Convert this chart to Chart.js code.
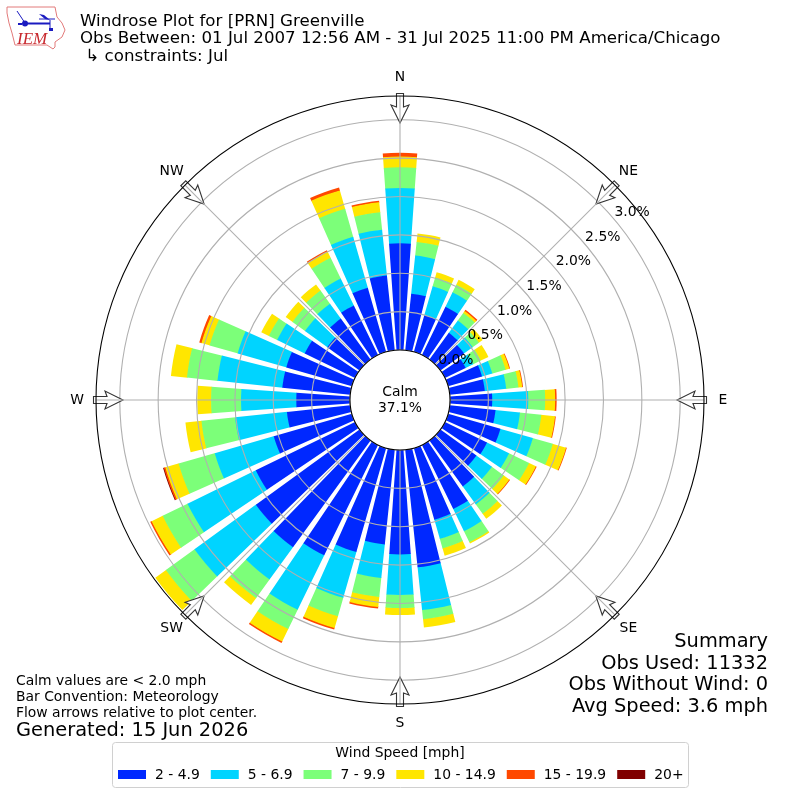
<!DOCTYPE html>
<html>
<head>
<meta charset="utf-8">
<title>Windrose</title>
<script src="https://cdn.jsdelivr.net/npm/chart.js@4"></script>
<style>
body{margin:0;background:#fff}
canvas{display:block}
</style>
</head>
<body>
<canvas id="rose" width="800" height="800"></canvas>
<script>
// directions, every 10 degrees starting from north
const directions = [0,10,20,30,40,50,60,70,80,90,100,110,120,130,140,150,160,170,180,190,200,210,220,230,240,250,260,270,280,290,300,310,320,330,340,350];
const speedBins = ['2 - 4.9','5 - 6.9','7 - 9.9','10 - 14.9','15 - 19.9','20+'];
const binColors = ['#0028ff','#00d4ff','#7cff79','#ffe600','#ff4800','#800000'];

// percent of obs per direction
const bin2to5 =   [1.39,.74,.50,.70,.43,.38,.30,.46,.46,.55,.60,.71,.61,.58,.74,.93,.97,1.54,1.36,1.24,1.41,1.60,1.72,1.67,1.44,1.06,.83,.70,.89,.89,.73,.52,.66,.72,.87,.98];
const bin5to7 =   [.72,.50,.39,.21,.20,.14,.11,.14,.28,.47,.32,.44,.32,.25,.29,.32,.26,.56,.53,.44,.62,.79,.52,.99,.99,.80,.68,.72,.85,.66,.40,.36,.24,.39,.69,.60];
const bin7to10 =  [.27,.18,.12,.11,.12,.10,.11,.18,.16,.22,.28,.27,.29,.19,.15,.16,.13,.12,.17,.25,.25,.28,.30,.46,.36,.49,.44,.39,.40,.38,.12,.20,.21,.30,.38,.23];
const bin10to15 = [.14,.11,.07,.07,.03,.06,.11,.05,.05,.13,.18,.18,.10,.09,.08,.02,.10,.11,.09,.13,.16,.18,.11,.17,.16,.18,.21,.18,.21,.11,.11,.11,.10,.09,.25,.13];
const bin15to20 = [.05,0,0,0,.02,0,0,.01,.01,.02,.01,.01,.01,.01,0,0,0,0,0,.02,.02,.02,0,0,.02,.02,0,0,0,.03,0,0,0,.02,.04,.02];
const bin20up =   [0,0,0,0,0,0,0,0,0,0,0,0,0,0,0,0,0,0,0,0,0,0,0,0,0,.01,0,0,0,0,0,0,0,0,0,0];
const allBins = [bin2to5,bin5to7,bin7to10,bin10to15,bin15to20,bin20up];

const tickValues = [0,0.5,1,1.5,2,2.5,3];
const compass = ['N','NE','E','SE','S','SW','W','NW'];
const titleLines = ['Windrose Plot for [PRN] Greenville','Obs Between: 01 Jul 2007 12:56 AM - 31 Jul 2025 11:00 PM America/Chicago',' \u21B3 constraints: Jul'];
const noteLines = ['Calm values are < 2.0 mph','Bar Convention: Meteorology','Flow arrows relative to plot center.'];
const generated = 'Generated: 15 Jun 2026';
const summaryLines = ['Summary','Obs Used: 11332','Obs Without Wind: 0','Avg Speed: 3.6 mph'];
const calmText = ['Calm','37.1%'];

const FONT = '"DejaVu Sans"';
const BAR_DEG = 8, GAP_DEG = 2;

// each direction is a bar slice followed by an empty gap slice
const labels = [];
directions.forEach(function(d){ labels.push(d + '\u00B0', ''); });

// running totals give each bin its outer radius
const running = directions.map(function(){ return 0; });
const datasets = allBins.map(function(bin, b){
    const values = [];
    bin.forEach(function(v, i){
        running[i] += v;
        values.push(running[i], 0);
    });
    return {
        label: speedBins[b],
        data: values,
        backgroundColor: function(c){
            return c.dataIndex % 2 || !bin[c.dataIndex / 2] ? 'rgba(0,0,0,0)' : binColors[b];
        },
        angle: function(c){ return c.dataIndex % 2 ? GAP_DEG : BAR_DEG; },
        borderWidth: 0
    };
});

// polar slices start from the centre, so open each one up to the top of the bin below
const stackArcs = {
    id: 'stackArcs',
    afterDatasetsUpdate: function(chart){
        const r = chart.scales.r;
        chart.data.datasets.forEach(function(ds, d){
            chart.getDatasetMeta(d).data.forEach(function(arc, i){
                const below = d > 0 ? chart.data.datasets[d - 1].data[i] : 0;
                arc.innerRadius = r.getDistanceFromCenterForValue(below) - (d > 0 ? 0.6 : 0);
            });
        });
    }
};

function text(ctx, str, x, y, size, align, base, color){
    ctx.font = size + 'px ' + FONT;
    ctx.textAlign = align || 'left';
    ctx.textBaseline = base || 'alphabetic';
    ctx.fillStyle = color || '#000';
    ctx.fillText(str, x, y);
}

function drawLogo(ctx){
    const outline = [[7,7],[55,7],[57,17],[62,23],[65,30],[62,37],[55,42],[55,47],[53,49],[47,45],[15,45],[12,33],[9,23],[7,13]];
    ctx.save();
    ctx.beginPath();
    outline.forEach(function(p, i){ if(i) ctx.lineTo(p[0],p[1]); else ctx.moveTo(p[0],p[1]); });
    ctx.closePath();
    ctx.strokeStyle = '#e27a7a';
    ctx.lineWidth = 1;
    ctx.stroke();
    ctx.strokeStyle = '#1a1ac0';
    ctx.fillStyle = '#1a1ac0';
    ctx.lineWidth = 2;
    ctx.beginPath(); ctx.moveTo(25,23.5); ctx.lineTo(50,23.5); ctx.stroke();
    ctx.lineWidth = 1;
    ctx.beginPath(); ctx.moveTo(17,11); ctx.lineTo(25,23); ctx.moveTo(39,19); ctx.lineTo(55,19); ctx.moveTo(50,20); ctx.lineTo(50,30); ctx.stroke();
    ctx.beginPath(); ctx.arc(25,23.5,3,0,Math.PI*2); ctx.fill();
    ctx.beginPath(); ctx.moveTo(39,14); ctx.lineTo(44,15); ctx.lineTo(50,20); ctx.lineTo(45,19); ctx.fill();
    ctx.fillRect(18,23,4,2); ctx.fillRect(49,28,4,3);
    ctx.restore();
    ctx.font = 'italic 17px "Liberation Serif"';
    ctx.textAlign = 'left';
    ctx.textBaseline = 'alphabetic';
    ctx.fillStyle = '#c8282e';
    ctx.fillText('IEM', 17, 44);
}

function drawArrow(ctx, cx, cy, deg){
    ctx.save();
    ctx.translate(cx, cy);
    ctx.rotate(deg * Math.PI / 180);
    ctx.beginPath();
    ctx.moveTo(-3.5,-306.5);
    ctx.lineTo(3.5,-306.5);
    ctx.lineTo(3.5,-293);
    ctx.lineTo(9,-295);
    ctx.lineTo(0,-277);
    ctx.lineTo(-9,-295);
    ctx.lineTo(-3.5,-293);
    ctx.closePath();
    ctx.fillStyle = '#fff';
    ctx.fill();
    ctx.strokeStyle = '#333';
    ctx.lineWidth = 1.1;
    ctx.stroke();
    ctx.restore();
}

function drawLegend(ctx){
    ctx.save();
    ctx.beginPath();
    ctx.roundRect(112.5,742.5,576,45,3);
    ctx.fillStyle = '#fff';
    ctx.fill();
    ctx.strokeStyle = '#d0d0d0';
    ctx.lineWidth = 1;
    ctx.stroke();
    ctx.restore();
    text(ctx, 'Wind Speed [mph]', 400, 753, 13.9, 'center', 'middle');
    let x = 118;
    speedBins.forEach(function(label, i){
        ctx.fillStyle = binColors[i];
        ctx.fillRect(x, 770, 28, 9);
        text(ctx, label, x + 37, 775, 13.9, 'left', 'middle');
        x += 37 + ctx.measureText(label).width + 11;
    });
}

const roseDecor = {
    id: 'roseDecor',
    afterDraw: function(chart){
        const ctx = chart.ctx;
        const r = chart.scales.r;
        const cx = r.xCenter, cy = r.yCenter;
        const hole = r.getDistanceFromCenterForValue(0);

        compass.forEach(function(name, i){ drawArrow(ctx, cx, cy, i * 45); });

        // spokes every 45 degrees
        ctx.save();
        ctx.strokeStyle = '#b0b0b0';
        ctx.lineWidth = 1.1;
        compass.forEach(function(name, i){
            const a = i * Math.PI / 4;
            ctx.beginPath();
            ctx.moveTo(cx + hole * Math.sin(a), cy - hole * Math.cos(a));
            ctx.lineTo(cx + r.drawingArea * Math.sin(a), cy - r.drawingArea * Math.cos(a));
            ctx.stroke();
        });
        ctx.strokeStyle = '#000';
        ctx.beginPath();
        ctx.arc(cx, cy, r.drawingArea, 0, Math.PI * 2);
        ctx.stroke();
        ctx.beginPath();
        ctx.arc(cx, cy, hole, 0, Math.PI * 2);
        ctx.fillStyle = '#fff';
        ctx.fill();
        ctx.stroke();
        ctx.restore();

        text(ctx, calmText[0], cx, cy - 8, 13.9, 'center', 'middle');
        text(ctx, calmText[1], cx, cy + 8, 13.9, 'center', 'middle');

        compass.forEach(function(name, i){
            const a = i * Math.PI / 4;
            text(ctx, name, cx + 323 * Math.sin(a), cy - 323 * Math.cos(a), 13.9, 'center', 'middle');
        });

        // radius labels run out along a line 50 degrees from north
        const la = 50 * Math.PI / 180;
        tickValues.forEach(function(v){
            const d = r.getDistanceFromCenterForValue(v);
            text(ctx, v.toFixed(1) + '%', cx + d * Math.sin(la) + 17.5, cy - d * Math.cos(la) - 7.5, 13.9, 'center', 'middle');
        });

        drawLogo(ctx);
        titleLines.forEach(function(line, i){ text(ctx, line, 80, 26 + i * 17.3, 16.67); });
        noteLines.forEach(function(line, i){ text(ctx, line, 16, 685 + i * 16, 13.9); });
        text(ctx, generated, 16, 736, 19.4);
        summaryLines.forEach(function(line, i){ text(ctx, line, 768, 647 + i * 21.7, 19.4, 'right'); });
        drawLegend(ctx);
    }
};

const rose = new Chart(document.getElementById('rose').getContext('2d'), {
    type: 'polarArea',
    data: { labels: labels, datasets: datasets },
    plugins: [stackArcs, roseDecor],
    options: {
        responsive: false,
        animation: false,
        devicePixelRatio: 1,
        layout: { padding: 96 },
        plugins: { legend: { display: false }, tooltip: { enabled: false } },
        scales: {
            r: {
                min: -0.652,
                max: 3.31,
                startAngle: -BAR_DEG / 2,
                afterBuildTicks: function(scale){
                    scale.ticks = tickValues.map(function(v){ return { value: v }; });
                },
                ticks: { display: false },
                angleLines: { display: false },
                grid: { color: '#b0b0b0', lineWidth: 1.1, z: 1 }
            }
        }
    }
});
</script>
</body>
</html>
